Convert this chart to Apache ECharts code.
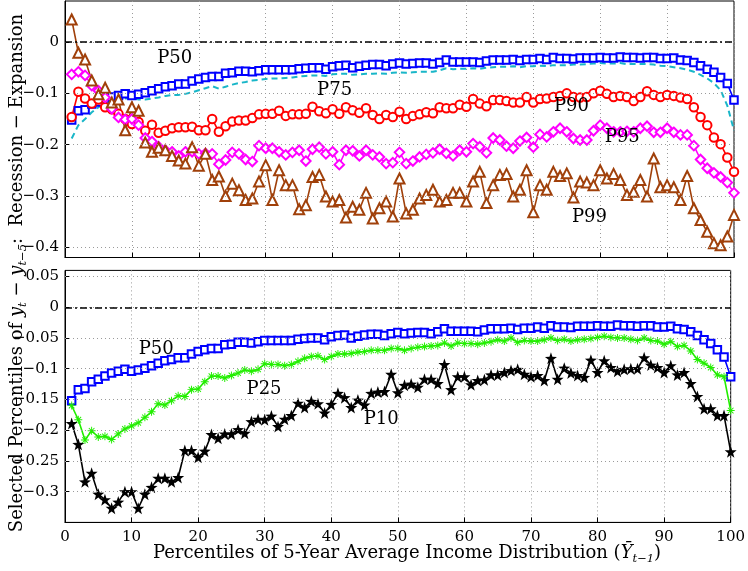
<!DOCTYPE html>
<html>
<head>
<meta charset="utf-8">
<script src="https://cdn.jsdelivr.net/npm/echarts@6/dist/echarts.min.js"></script>
<style>html,body{margin:0;padding:0;background:#fff}#c{width:748px;height:571px}</style>
</head>
<body>
<div id="c"></div>
<script>
const percentiles = [1,2,3,4,5,6,7,8,9,10,11,12,13,14,15,16,17,18,19,20,21,22,23,24,25,26,27,28,29,30,31,32,33,34,35,36,37,38,39,40,41,42,43,44,45,46,47,48,49,50,51,52,53,54,55,56,57,58,59,60,61,62,63,64,65,66,67,68,69,70,71,72,73,74,75,76,77,78,79,80,81,82,83,84,85,86,87,88,89,90,91,92,93,94,95,96,97,98,99,100];

const p50 = [-0.152,-0.134,-0.132,-0.121,-0.117,-0.112,-0.107,-0.104,-0.101,-0.104,-0.102,-0.099,-0.095,-0.091,-0.087,-0.085,-0.082,-0.082,-0.076,-0.072,-0.069,-0.067,-0.067,-0.061,-0.060,-0.057,-0.057,-0.058,-0.056,-0.054,-0.054,-0.054,-0.054,-0.054,-0.052,-0.051,-0.050,-0.050,-0.053,-0.048,-0.046,-0.045,-0.050,-0.047,-0.045,-0.044,-0.044,-0.046,-0.043,-0.041,-0.043,-0.042,-0.041,-0.041,-0.043,-0.040,-0.035,-0.039,-0.039,-0.039,-0.039,-0.040,-0.037,-0.035,-0.035,-0.035,-0.034,-0.036,-0.034,-0.034,-0.032,-0.034,-0.030,-0.032,-0.032,-0.033,-0.031,-0.031,-0.031,-0.030,-0.031,-0.031,-0.029,-0.030,-0.030,-0.031,-0.030,-0.030,-0.032,-0.032,-0.031,-0.035,-0.036,-0.040,-0.046,-0.053,-0.059,-0.069,-0.081,-0.113];

const p75 = [-0.188,-0.162,-0.150,-0.137,-0.127,-0.120,-0.115,-0.112,-0.110,-0.109,-0.112,-0.112,-0.110,-0.108,-0.105,-0.103,-0.103,-0.101,-0.098,-0.094,-0.090,-0.086,-0.091,-0.087,-0.083,-0.080,-0.078,-0.075,-0.074,-0.072,-0.071,-0.071,-0.070,-0.069,-0.067,-0.066,-0.065,-0.065,-0.066,-0.063,-0.062,-0.062,-0.064,-0.063,-0.062,-0.062,-0.061,-0.062,-0.060,-0.059,-0.060,-0.059,-0.058,-0.058,-0.058,-0.055,-0.051,-0.053,-0.052,-0.052,-0.051,-0.052,-0.050,-0.049,-0.048,-0.048,-0.047,-0.049,-0.047,-0.047,-0.046,-0.047,-0.045,-0.045,-0.045,-0.044,-0.044,-0.043,-0.042,-0.041,-0.042,-0.042,-0.041,-0.043,-0.043,-0.043,-0.043,-0.044,-0.046,-0.047,-0.049,-0.051,-0.054,-0.058,-0.064,-0.071,-0.080,-0.094,-0.124,-0.172];

const p90 = [-0.146,-0.097,-0.110,-0.120,-0.112,-0.127,-0.131,-0.140,-0.150,-0.160,-0.156,-0.173,-0.161,-0.177,-0.173,-0.168,-0.166,-0.166,-0.165,-0.172,-0.172,-0.150,-0.175,-0.164,-0.155,-0.153,-0.153,-0.148,-0.141,-0.140,-0.140,-0.134,-0.144,-0.141,-0.141,-0.140,-0.126,-0.135,-0.139,-0.131,-0.140,-0.127,-0.133,-0.138,-0.129,-0.142,-0.150,-0.142,-0.146,-0.136,-0.150,-0.144,-0.141,-0.137,-0.139,-0.127,-0.129,-0.129,-0.122,-0.126,-0.111,-0.120,-0.125,-0.113,-0.113,-0.115,-0.118,-0.118,-0.107,-0.118,-0.111,-0.110,-0.107,-0.105,-0.100,-0.107,-0.108,-0.107,-0.100,-0.095,-0.101,-0.107,-0.105,-0.107,-0.115,-0.107,-0.096,-0.103,-0.107,-0.103,-0.105,-0.108,-0.111,-0.127,-0.146,-0.162,-0.186,-0.199,-0.225,-0.253];

const p95 = [-0.063,-0.058,-0.065,-0.085,-0.095,-0.108,-0.130,-0.147,-0.151,-0.150,-0.162,-0.187,-0.194,-0.204,-0.211,-0.214,-0.222,-0.214,-0.214,-0.218,-0.217,-0.218,-0.238,-0.230,-0.215,-0.218,-0.229,-0.233,-0.202,-0.207,-0.207,-0.214,-0.220,-0.215,-0.211,-0.232,-0.209,-0.205,-0.218,-0.214,-0.239,-0.211,-0.212,-0.222,-0.211,-0.220,-0.224,-0.237,-0.235,-0.215,-0.237,-0.232,-0.224,-0.219,-0.216,-0.209,-0.217,-0.222,-0.211,-0.214,-0.198,-0.204,-0.216,-0.187,-0.191,-0.203,-0.207,-0.193,-0.186,-0.205,-0.180,-0.185,-0.175,-0.168,-0.175,-0.188,-0.191,-0.191,-0.173,-0.162,-0.168,-0.175,-0.175,-0.174,-0.175,-0.168,-0.164,-0.176,-0.176,-0.168,-0.176,-0.181,-0.181,-0.202,-0.229,-0.246,-0.255,-0.263,-0.274,-0.294];

const p99 = [0.044,-0.021,-0.034,-0.075,-0.102,-0.089,-0.118,-0.112,-0.172,-0.127,-0.134,-0.196,-0.214,-0.206,-0.211,-0.222,-0.231,-0.237,-0.205,-0.241,-0.218,-0.269,-0.262,-0.300,-0.276,-0.289,-0.308,-0.305,-0.272,-0.240,-0.308,-0.250,-0.279,-0.279,-0.326,-0.318,-0.263,-0.259,-0.301,-0.311,-0.308,-0.342,-0.321,-0.327,-0.294,-0.344,-0.324,-0.311,-0.340,-0.266,-0.334,-0.327,-0.305,-0.298,-0.288,-0.311,-0.308,-0.294,-0.294,-0.311,-0.272,-0.253,-0.314,-0.279,-0.259,-0.257,-0.301,-0.288,-0.250,-0.332,-0.279,-0.288,-0.253,-0.261,-0.256,-0.303,-0.272,-0.274,-0.279,-0.250,-0.266,-0.257,-0.269,-0.298,-0.292,-0.269,-0.301,-0.227,-0.283,-0.279,-0.283,-0.308,-0.261,-0.324,-0.347,-0.370,-0.392,-0.396,-0.379,-0.337];

const p25 = [-0.160,-0.183,-0.216,-0.201,-0.211,-0.210,-0.215,-0.206,-0.198,-0.193,-0.188,-0.179,-0.170,-0.157,-0.159,-0.152,-0.144,-0.145,-0.134,-0.133,-0.121,-0.112,-0.112,-0.115,-0.111,-0.107,-0.102,-0.104,-0.101,-0.092,-0.093,-0.093,-0.095,-0.093,-0.088,-0.083,-0.080,-0.079,-0.085,-0.080,-0.076,-0.076,-0.075,-0.073,-0.072,-0.070,-0.070,-0.070,-0.067,-0.067,-0.070,-0.067,-0.065,-0.064,-0.063,-0.062,-0.058,-0.063,-0.058,-0.059,-0.059,-0.060,-0.058,-0.056,-0.053,-0.055,-0.050,-0.057,-0.054,-0.055,-0.055,-0.053,-0.050,-0.054,-0.052,-0.055,-0.053,-0.052,-0.051,-0.049,-0.047,-0.049,-0.050,-0.050,-0.052,-0.054,-0.050,-0.054,-0.055,-0.060,-0.056,-0.064,-0.062,-0.071,-0.085,-0.091,-0.098,-0.110,-0.113,-0.168];

const p10 = [-0.189,-0.223,-0.284,-0.270,-0.304,-0.313,-0.327,-0.317,-0.300,-0.300,-0.327,-0.304,-0.293,-0.278,-0.278,-0.284,-0.277,-0.233,-0.233,-0.244,-0.234,-0.207,-0.213,-0.206,-0.206,-0.199,-0.205,-0.186,-0.182,-0.183,-0.177,-0.194,-0.182,-0.176,-0.156,-0.163,-0.153,-0.157,-0.172,-0.158,-0.140,-0.147,-0.163,-0.151,-0.159,-0.140,-0.138,-0.137,-0.109,-0.139,-0.127,-0.125,-0.130,-0.117,-0.117,-0.124,-0.093,-0.134,-0.113,-0.113,-0.126,-0.119,-0.118,-0.110,-0.110,-0.106,-0.103,-0.101,-0.109,-0.113,-0.111,-0.119,-0.083,-0.117,-0.099,-0.107,-0.111,-0.114,-0.086,-0.106,-0.087,-0.098,-0.104,-0.101,-0.100,-0.100,-0.082,-0.094,-0.098,-0.106,-0.095,-0.110,-0.106,-0.124,-0.145,-0.165,-0.165,-0.176,-0.176,-0.235];

const topTicks = [-0.4,-0.3,-0.2,-0.1,0];
const bottomTicks = [-0.3,-0.25,-0.2,-0.15,-0.1,-0.05,0,0.05];

// annotations: [text, grid, x, y]
const annotations = [
  ['P50',0,16.4,-0.031],['P75',0,40.3,-0.095],['P90',0,75.7,-0.125],['P95',0,83.3,-0.185],['P99',0,78.4,-0.341],
  ['P50',1,13.7,-0.069],['P25',1,29.9,-0.134],['P10',1,47.5,-0.182]
];

const FONT = '"DejaVu Serif", "Liberation Serif", serif';
const STAR = 'path://M0,-10 L2.35,-3.24 L9.51,-3.09 L3.8,1.24 L5.88,8.09 L0,4 L-5.88,8.09 L-3.8,1.24 L-9.51,-3.09 L-2.35,-3.24 Z';
const AST = 'path://M-5,-0.6 L5,-0.6 L5,0.6 L-5,0.6 Z M-0.6,-5 L0.6,-5 L0.6,5 L-0.6,5 Z M-3.08,-3.92 L3.92,3.08 L3.08,3.92 L-3.92,-3.08 Z M3.08,-3.92 L3.92,-3.08 L-3.08,3.92 L-3.92,3.08 Z';

function pairs(arr){ return percentiles.map((p,i)=>[p,arr[i]]); }
const fmt = v => (Math.abs(v) < 1e-9 ? '0' : String(+v.toFixed(2)).replace('-', '\u2212'));

const gridLineStyle = {color:'#9a9a9a', width:1, type:[1,3]};
function yGridSeries(gi, ticks){
  return {type:'line', xAxisIndex:gi, yAxisIndex:gi, data:[], silent:true, z:1,
    markLine:{silent:true, symbol:'none', animation:false, label:{show:false},
      lineStyle:gridLineStyle,
      data: ticks.map(t=>({yAxis:t}))}};
}
function zeroSeries(gi){
  return {type:'line', xAxisIndex:gi, yAxisIndex:gi, data:[], silent:true, z:2,
    markLine:{silent:true, symbol:'none', animation:false, label:{show:false},
      lineStyle:{color:'#000', width:1.5, type:[7,3,2,3]},
      data:[{yAxis:0}]}};
}
function mk(name, gi, arr, color, symbol, size, extra){
  return Object.assign({
    name, type:'line', xAxisIndex:gi, yAxisIndex:gi, data:pairs(arr),
    symbol, symbolSize:size, showAllSymbol:true, z:3,
    lineStyle:{color, width:1.6},
    itemStyle:{color, borderColor:color, borderWidth:1.3}
  }, extra||{});
}

const chart = echarts.init(document.getElementById('c'), null, {renderer:'canvas'});

function xAxisCfg(gi, showLabels){
  return {type:'value', gridIndex:gi, min:0, max:100, interval:10,
    axisLine:{show:true, onZero:false, lineStyle:{color:'#000', width:1}},
    axisTick:{show:true, inside:true, length:5, lineStyle:{color:'#000'}},
    axisLabel:{show:showLabels, color:'#000', fontFamily:FONT, fontSize:15, margin:7},
    splitLine:{show:true, lineStyle:gridLineStyle}};
}
function yAxisCfg(gi, min, max, ticks){
  return {type:'value', gridIndex:gi, min, max,
    axisLine:{show:true, onZero:false, lineStyle:{color:'#000', width:1}},
    axisTick:{show:true, inside:true, length:5, customValues:ticks, lineStyle:{color:'#000'}},
    axisLabel:{show:true, customValues:ticks, color:'#000', fontFamily:FONT, fontSize:15, margin:6, formatter:fmt},
    splitLine:{show:false}};
}

chart.setOption({
  animation:false,
  backgroundColor:'#fff',
  grid:[
    {left:65, top:1, width:669, height:256.5, show:true, borderColor:'#000', borderWidth:1, backgroundColor:'transparent'},
    {left:65, top:270.4, width:669, height:252, show:true, borderColor:'#000', borderWidth:1, backgroundColor:'transparent'}
  ],
  xAxis:[xAxisCfg(0,false), xAxisCfg(1,true)],
  yAxis:[yAxisCfg(0,-0.42,0.08,topTicks), yAxisCfg(1,-0.35,0.06,bottomTicks)],
  series:[
    yGridSeries(0, topTicks), yGridSeries(1, bottomTicks),
    zeroSeries(0), zeroSeries(1),
    mk('P75',0,p75,'#19b6c8','none',0,{lineStyle:{color:'#19b6c8', width:2, type:[6,4]}}),
    mk('P50',0,p50,'#0000ff','emptyRect',7.5),
    mk('P90',0,p90,'#ff0000','emptyCircle',8.5),
    mk('P95',0,p95,'#ff00ff','emptyDiamond',9.5),
    mk('P99',0,p99,'#a0400a','emptyTriangle',10),
    mk('P50b',1,p50,'#0000ff','emptyRect',7.5),
    mk('P25',1,p25,'#22ee00','none',0,{symbol:AST, symbolSize:8, itemStyle:{color:'#22ee00'}}),
    mk('P10',1,p10,'#000000',STAR,12,{itemStyle:{color:'#000'}})
  ]
});

const graphics = annotations.map(a=>{
  const pt = chart.convertToPixel({gridIndex:a[1]}, [a[2], a[3]]);
  return {type:'text', x:pt[0], y:pt[1], z:50,
    style:{text:a[0], fill:'#000', font:'18px ' + FONT, align:'center', verticalAlign:'middle'}};
});
const richT = {
  n:{fontFamily:FONT, fontSize:18, fill:'#000', lineHeight:24, verticalAlign:'middle'},
  i:{fontFamily:FONT, fontSize:18, fontStyle:'italic', fill:'#000', lineHeight:24, verticalAlign:'middle'},
  s:{fontFamily:FONT, fontSize:11.5, fontStyle:'italic', fill:'#000', lineHeight:13, verticalAlign:'bottom'}
};
graphics.push({type:'text', x:407, y:553, z:50,
  style:{text:'{n|Percentiles of 5-Year Average Income Distribution (}{i|\u0232}{s|t\u22121}{n|)}',
    align:'center', verticalAlign:'middle', rich:richT}});
graphics.push({type:'text', x:17, y:273, rotation:Math.PI/2, z:50,
  style:{text:'{n|Selected Percentiles of }{i|y}{s|t}{n| \u2212 }{i|y}{s|t\u22125}{n|:  Recession \u2212 Expansion}',
    align:'center', verticalAlign:'middle', rich:richT}});
chart.setOption({graphic:graphics});
</script>
</body>
</html>
